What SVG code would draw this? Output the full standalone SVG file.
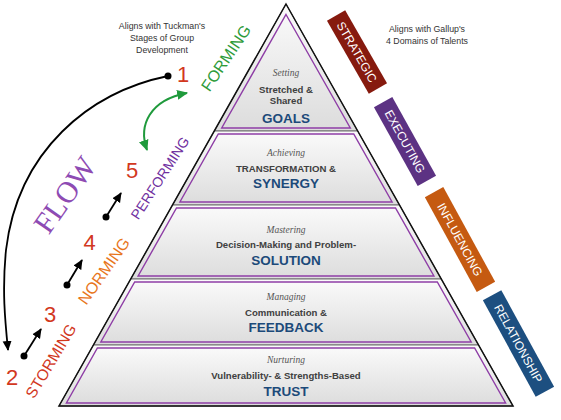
<svg xmlns="http://www.w3.org/2000/svg" width="561" height="420" viewBox="0 0 561 420">
<defs>
<linearGradient id="bandFill" x1="0" y1="0" x2="0" y2="1">
<stop offset="0" stop-color="#fbfbfb"/>
<stop offset="1" stop-color="#dcdcdc"/>
</linearGradient>
<marker id="ahBlack" markerUnits="userSpaceOnUse" markerWidth="10" markerHeight="10" viewBox="0 0 10 10" refX="9" refY="5" orient="auto">
<path d="M0,0.5 L10,5 L0,9.5 z" fill="#000"/>
</marker>
<marker id="ahGreen" markerUnits="userSpaceOnUse" markerWidth="11" markerHeight="11" viewBox="0 0 10 10" refX="9" refY="5" orient="auto-start-reverse">
<path d="M0,0.5 L10,5 L0,9.5 z" fill="#1f9a3c"/>
</marker>
</defs>
<style>
.band{fill:url(#bandFill);stroke:#6e6e6e;stroke-width:1}
.inner{fill:none;stroke:#8e3ea6;stroke-width:1.4}
.verb{font-family:"Liberation Serif",serif;font-style:italic;font-size:9.5px;fill:#555;text-anchor:middle}
.sub{font-family:"Liberation Sans",Arial,sans-serif;font-weight:bold;font-size:9.6px;fill:#404040;text-anchor:middle}
.big{font-family:"Liberation Sans",Arial,sans-serif;font-weight:900;font-size:13.5px;fill:#1c4a7a;text-anchor:middle}
.note{font-family:"Liberation Sans",Arial,sans-serif;font-size:8.8px;fill:#333;text-anchor:middle}
.num{font-family:"Liberation Sans",Arial,sans-serif;font-size:22px;fill:#d2381e;text-anchor:middle}
.stage{font-family:"Liberation Sans",Arial,sans-serif;text-anchor:middle}
.dom{font-family:"Liberation Sans",Arial,sans-serif;font-size:12px;fill:#fff;text-anchor:middle}
.conn{fill:none;stroke:#000;stroke-width:1.8}
</style>

<!-- Pyramid levels -->
<g id="level-goals">
<polygon class="band" points="286,4 357.7,131 214.3,131"/>
<polygon class="inner" points="286,14.5 350.3,128 221.7,128"/>
<text class="verb" x="286" y="76">Setting</text>
<text class="sub" x="286" y="93">Stretched &amp;</text>
<text class="sub" x="286" y="104">Shared</text>
<text class="big" x="286" y="123">GOALS</text>
</g>
<g id="level-synergy">
<polygon class="band" points="214.3,131 357.7,131 399.5,205 172.5,205"/>
<polygon class="inner" points="218.3,134 353.7,134 392.1,202 179.9,202"/>
<text class="verb" x="286" y="156">Achieving</text>
<text class="sub" x="286" y="172">TRANSFORMATION &amp;</text>
<text class="big" x="286" y="188">SYNERGY</text>
</g>
<g id="level-solution">
<polygon class="band" points="172.5,205 399.5,205 441.3,279 130.7,279"/>
<polygon class="inner" points="176.5,208 395.5,208 433.9,276 138.1,276"/>
<text class="verb" x="286" y="233">Mastering</text>
<text class="sub" x="286" y="248">Decision-Making and Problem-</text>
<text class="big" x="286" y="265">SOLUTION</text>
</g>
<g id="level-feedback">
<polygon class="band" points="130.7,279 441.3,279 478.6,345 93.4,345"/>
<polygon class="inner" points="134.7,282 437.3,282 471.2,342 100.8,342"/>
<text class="verb" x="286" y="300">Managing</text>
<text class="sub" x="286" y="316">Communication &amp;</text>
<text class="big" x="286" y="332">FEEDBACK</text>
</g>
<g id="level-trust">
<polygon class="band" points="93.4,345 478.6,345 513,406 59,406"/>
<polygon class="inner" points="97.4,348 474.6,348 505.6,403 66.4,403"/>
<text class="verb" x="286" y="363">Nurturing</text>
<text class="sub" x="286" y="379">Vulnerability- &amp; Strengths-Based</text>
<text class="big" x="286" y="396">TRUST</text>
</g>
<g id="pyramid-outline">
<polygon points="286,4 513,406 59,406" fill="none" stroke="#111" stroke-width="1.5"/>
</g>

<!-- Notes -->
<g id="note-tuckman">
<text class="note" x="162" y="29">Aligns with Tuckman's</text>
<text class="note" x="162" y="41">Stages of Group</text>
<text class="note" x="162" y="53">Development</text>
</g>
<g id="note-gallup">
<text class="note" x="427" y="32">Aligns with Gallup's</text>
<text class="note" x="427" y="44">4 Domains of Talents</text>
</g>

<!-- Stages -->
<g id="stage-1">
<text class="num" x="183" y="82">1</text>
<text class="stage" transform="translate(226,58) rotate(-56)" x="0" y="5.5" font-size="16" fill="#2e9b3a">FORMING</text>
</g>
<g id="stage-2">
<text class="num" x="12" y="385" font-size="24">2</text>
<text class="stage" transform="translate(51,361) rotate(-59)" x="0" y="5.3" font-size="15.5" fill="#d2381e">STORMING</text>
</g>
<g id="stage-3">
<text class="num" x="50" y="322" font-size="23">3</text>
<text class="stage" transform="translate(104,271) rotate(-55)" x="0" y="5.5" font-size="16" fill="#e8761c">NORMING</text>
</g>
<g id="stage-4">
<text class="num" x="89.5" y="250" font-size="21">4</text>
</g>
<g id="stage-5">
<text class="num" x="132" y="178" font-size="21">5</text>
<text class="stage" transform="translate(160,178) rotate(-57)" x="0" y="5" font-size="14" fill="#7030a0">PERFORMING</text>
</g>
<g id="flow-label">
<text transform="translate(65,195) rotate(-55)" x="0" y="10" font-family="'Liberation Serif',serif" font-size="30" fill="#8e4bb3" text-anchor="middle">FLOW</text>
</g>

<!-- Domains -->
<g id="domain-strategic" transform="translate(357,52) rotate(60.1)">
<rect x="-42" y="-10.5" width="84" height="21" fill="#861a0e"/>
<text class="dom" x="0" y="4.3">STRATEGIC</text>
</g>
<g id="domain-executing" transform="translate(405,141.5) rotate(60.9)">
<rect x="-45" y="-10.5" width="90" height="21" fill="#5c3283"/>
<text class="dom" x="0" y="4.3" font-size="12.5">EXECUTING</text>
</g>
<g id="domain-influencing" transform="translate(460,239.5) rotate(61.3)">
<rect x="-54" y="-10.5" width="108" height="21" fill="#c55a11"/>
<text class="dom" x="0" y="4.3" font-size="12.5">INFLUENCING</text>
</g>
<g id="domain-relationship" transform="translate(518.5,343.5) rotate(61.3)">
<rect x="-55" y="-10.5" width="110" height="21" fill="#1d4f80"/>
<text class="dom" x="0" y="4.3">RELATIONSHIP</text>
</g>

<!-- Connectors -->
<g id="connectors">
<circle cx="168" cy="76" r="3.5" fill="#000"/>
<path class="conn" d="M168,76 C90,92 18,150 6,250 C2,290 5,320 8,350" marker-end="url(#ahBlack)"/>
<path d="M147,150 C138,125 150,100 187,93" fill="none" stroke="#1f9a3c" stroke-width="2" marker-start="url(#ahGreen)" marker-end="url(#ahGreen)"/>
<circle cx="24" cy="356" r="3.5" fill="#000"/>
<line class="conn" x1="24" y1="356" x2="41" y2="329" marker-end="url(#ahBlack)"/>
<circle cx="67" cy="285" r="3.5" fill="#000"/>
<line class="conn" x1="67" y1="285" x2="82" y2="260" marker-end="url(#ahBlack)"/>
<circle cx="106" cy="217" r="3.5" fill="#000"/>
<line class="conn" x1="106" y1="217" x2="121" y2="193" marker-end="url(#ahBlack)"/>
</g>
</svg>
